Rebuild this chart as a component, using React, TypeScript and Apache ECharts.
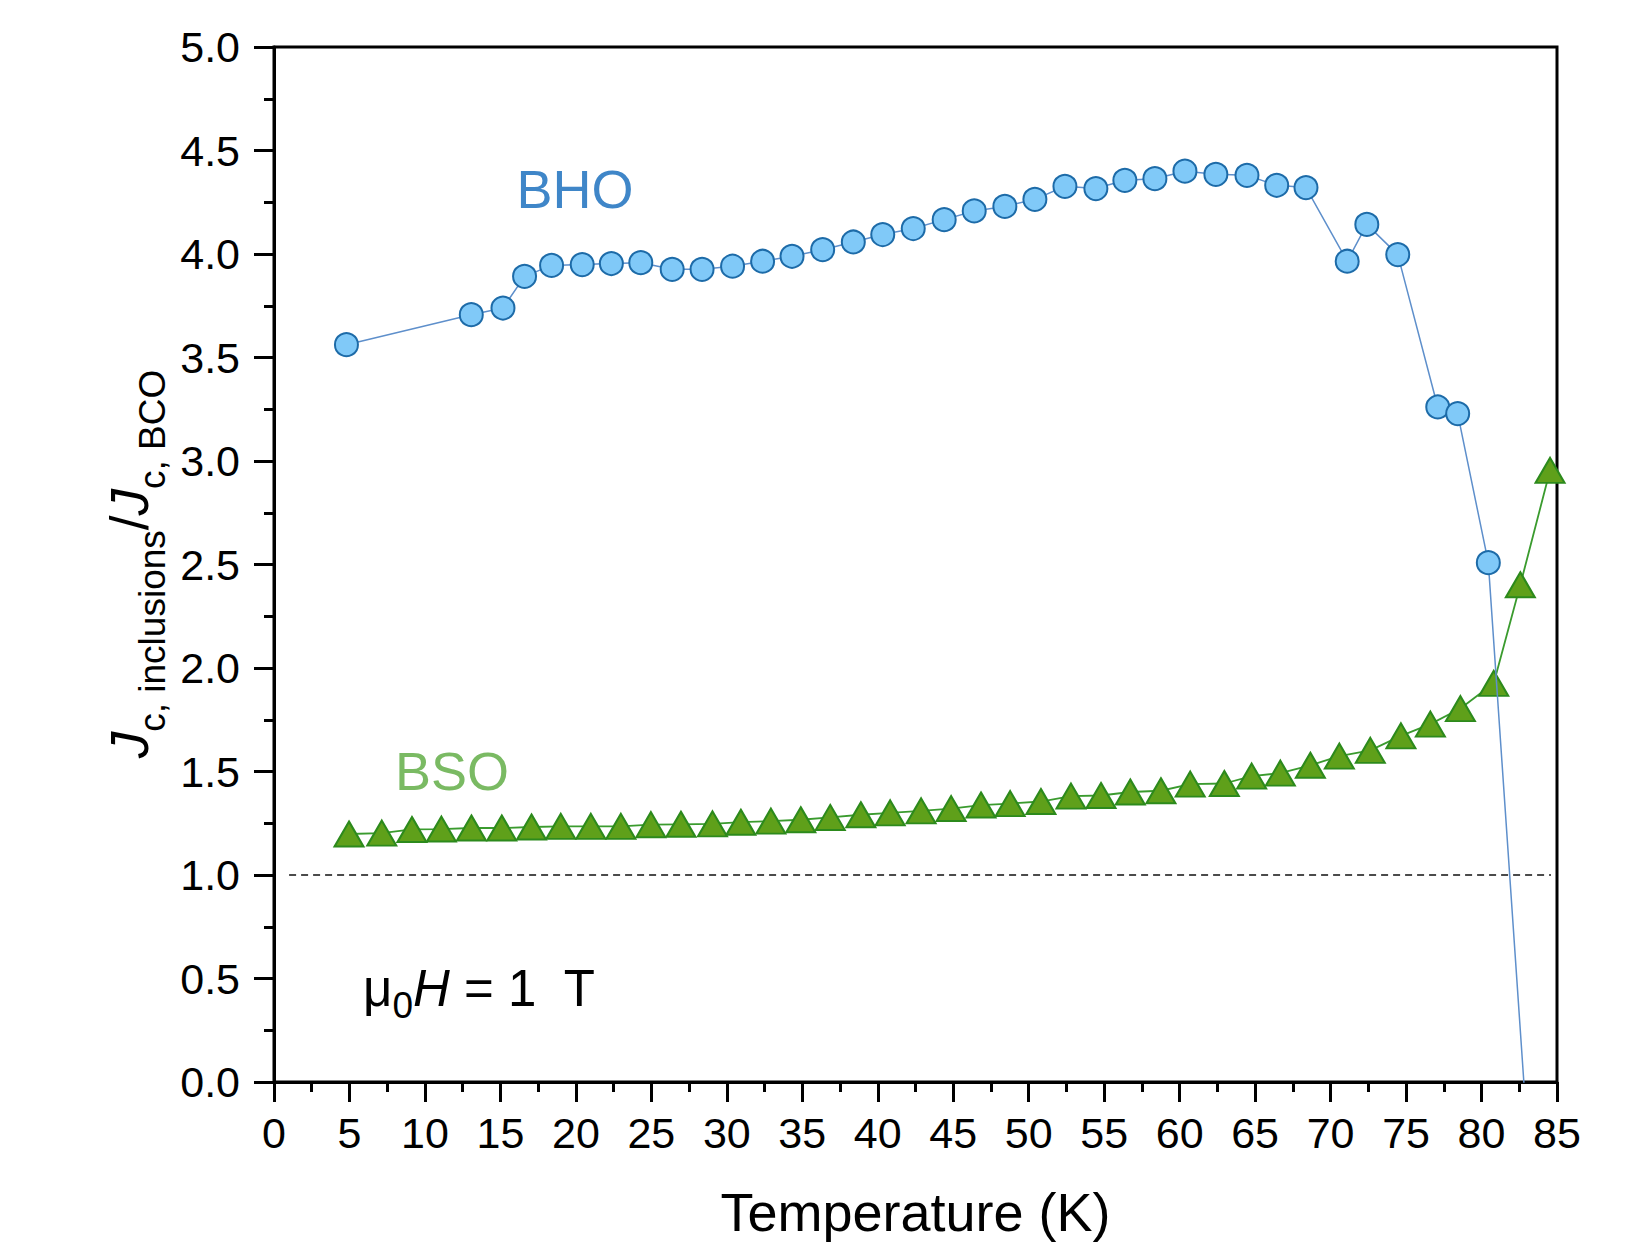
import React, { useEffect, useRef } from "react";
import * as echarts from "echarts";

// ---- Data ----
const bhoTemperature = [
  4.8, 13.07, 15.17, 16.6, 18.39, 20.42, 22.35, 24.3, 26.38, 28.36, 30.38, 32.37,
  34.32, 36.35, 38.38, 40.33, 42.35, 44.4, 46.39, 48.42, 50.41, 52.4, 54.45, 56.37,
  58.36, 60.35, 62.4, 64.46, 66.43, 68.37, 71.1, 72.4, 74.45, 77.1, 78.42, 80.45, 83.0,
];
const bhoRatio = [
  3.562, 3.707, 3.739, 3.892, 3.945, 3.949, 3.954, 3.958, 3.926, 3.926, 3.941, 3.965,
  3.989, 4.021, 4.058, 4.094, 4.123, 4.166, 4.208, 4.23, 4.264, 4.327, 4.316, 4.356,
  4.364, 4.4, 4.385, 4.38, 4.332, 4.321, 3.965, 4.143, 3.997, 3.261, 3.229, 2.509, -0.21,
];
const bsoTemperature = [
  4.97, 7.14, 9.14, 11.09, 13.08, 15.09, 17.06, 19.0, 20.99, 22.98, 24.97, 26.96,
  29.05, 30.93, 32.92, 34.9, 36.85, 38.88, 40.82, 42.87, 44.86, 46.84, 48.77, 50.81,
  52.8, 54.79, 56.73, 58.76, 60.7, 62.96, 64.77, 66.67, 68.66, 70.58, 72.63, 74.66,
  76.61, 78.6, 80.81, 82.57, 84.54,
];
const bsoRatio = [
  1.198, 1.202, 1.22, 1.222, 1.227, 1.227, 1.232, 1.235, 1.235, 1.235, 1.243, 1.245,
  1.247, 1.255, 1.26, 1.267, 1.278, 1.291, 1.3, 1.31, 1.321, 1.338, 1.345, 1.355,
  1.381, 1.384, 1.401, 1.407, 1.439, 1.442, 1.478, 1.492, 1.53, 1.574, 1.602, 1.672,
  1.729, 1.804, 1.926, 2.402, 2.955,
];
const referenceT = [1.0, 84.6];
const referenceRatio = [1.0, 1.0];

const xMin = 0;
const xMax = 85;
const xInterval = 5;
const yMin = 0;
const yMax = 5;
const yInterval = 0.5;

const FONT = "'Liberation Sans', Arial, Helvetica, sans-serif";

function zip(a: number[], b: number[]) {
  return a.map((v, i) => [v, b[i]]);
}

export default function App() {
  const ref = useRef<HTMLDivElement>(null);

  useEffect(() => {
    if (!ref.current) return;
    const chart = echarts.init(ref.current, undefined, { renderer: "svg" });

    const axisCommon = {
      axisLine: { show: true, onZero: false, lineStyle: { color: "#000", width: 3 } },
      axisTick: { show: true, inside: false, length: 20, lineStyle: { color: "#000", width: 3 } },
      minorTick: { show: true, splitNumber: 2, length: 10, lineStyle: { color: "#000", width: 3 } },
      splitLine: { show: false },
      minorSplitLine: { show: false },
    };

    const option: any = {
      animation: false,
      backgroundColor: "#fff",
      grid: {
        left: 274,
        top: 47,
        width: 1283,
        height: 1035,
        show: true,
        borderColor: "#000",
        borderWidth: 3,
        backgroundColor: "transparent",
      },
      xAxis: {
        type: "value",
        min: xMin,
        max: xMax,
        interval: xInterval,
        ...axisCommon,
        axisLabel: {
          color: "#000",
          fontSize: 43,
          fontFamily: FONT,
          margin: 29,
        },
        name: "Temperature (K)",
        nameLocation: "middle",
        nameGap: 103,
        nameTextStyle: { color: "#000", fontSize: 54, fontFamily: FONT },
      },
      yAxis: {
        type: "value",
        min: yMin,
        max: yMax,
        interval: yInterval,
        ...axisCommon,
        axisLabel: {
          color: "#000",
          fontSize: 43,
          fontFamily: FONT,
          margin: 34,
          formatter: (v: number) => v.toFixed(1),
        },
      },
      series: [
        {
          name: "reference",
          type: "line",
          data: zip(referenceT, referenceRatio),
          showSymbol: false,
          symbol: "none",
          lineStyle: { color: "#111", width: 1.5, type: [7, 5] },
          z: 1,
        },
        {
          name: "BSO",
          type: "line",
          data: zip(bsoTemperature, bsoRatio),
          symbol: "triangle",
          symbolSize: [29, 25],
          clip: true,
          lineStyle: { color: "#3a9b2e", width: 1.8 },
          itemStyle: { color: "#5fa01a", borderColor: "#2c8a1c", borderWidth: 2 },
          z: 2,
        },
        {
          name: "BHO",
          type: "line",
          data: zip(bhoTemperature, bhoRatio),
          symbol: "circle",
          symbolSize: 23,
          clip: true,
          lineStyle: { color: "#5e8fcb", width: 1.5 },
          itemStyle: { color: "#80c9f8", borderColor: "#1d6ba8", borderWidth: 2 },
          z: 3,
        },
      ],
      graphic: [
        {
          type: "text",
          x: 575,
          y: 189,
          style: {
            text: "BHO",
            fill: "#3f86c8",
            fontSize: 54,
            fontFamily: FONT,
            align: "center",
            verticalAlign: "middle",
          },
        },
        {
          type: "text",
          x: 452,
          y: 771,
          style: {
            text: "BSO",
            fill: "#7aba63",
            fontSize: 54,
            fontFamily: FONT,
            align: "center",
            verticalAlign: "middle",
          },
        },
        {
          type: "text",
          x: 363,
          y: 963,
          style: {
            text: "{n|μ}{s|0}{i|H}{n| = 1  T}",
            fill: "#000",
            fontFamily: FONT,
            align: "left",
            verticalAlign: "top",
            rich: {
              n: { fontSize: 51, lineHeight: 51, fontFamily: FONT, verticalAlign: "top", fill: "#000" },
              i: { fontSize: 51, lineHeight: 51, fontFamily: FONT, fontStyle: "italic", verticalAlign: "top", fill: "#000" },
              s: { fontSize: 37, lineHeight: 37, fontFamily: FONT, verticalAlign: "top", padding: [24, 0, 0, 0], fill: "#000" },
            },
          },
        },
        {
          type: "text",
          x: 129,
          y: 564,
          rotation: Math.PI / 2,
          style: {
            text: "{j|J}{s|c, inclusions}{n|/}{j|J}{s|c, BCO}",
            fill: "#000",
            fontFamily: FONT,
            align: "center",
            verticalAlign: "middle",
            rich: {
              j: { fontSize: 53, lineHeight: 53, fontFamily: FONT, fontStyle: "italic", verticalAlign: "top", fill: "#000" },
              n: { fontSize: 53, lineHeight: 53, fontFamily: FONT, verticalAlign: "top", fill: "#000" },
              s: { fontSize: 37, lineHeight: 37, fontFamily: FONT, verticalAlign: "top", padding: [31, 0, 0, 0], fill: "#000" },
            },
          },
        },
      ],
    };

    chart.setOption(option);
    return () => chart.dispose();
  }, []);

  return (
    <div
      ref={ref}
      style={{ position: "fixed", left: 0, top: 0, width: 1631, height: 1245, background: "#fff" }}
    />
  );
}
